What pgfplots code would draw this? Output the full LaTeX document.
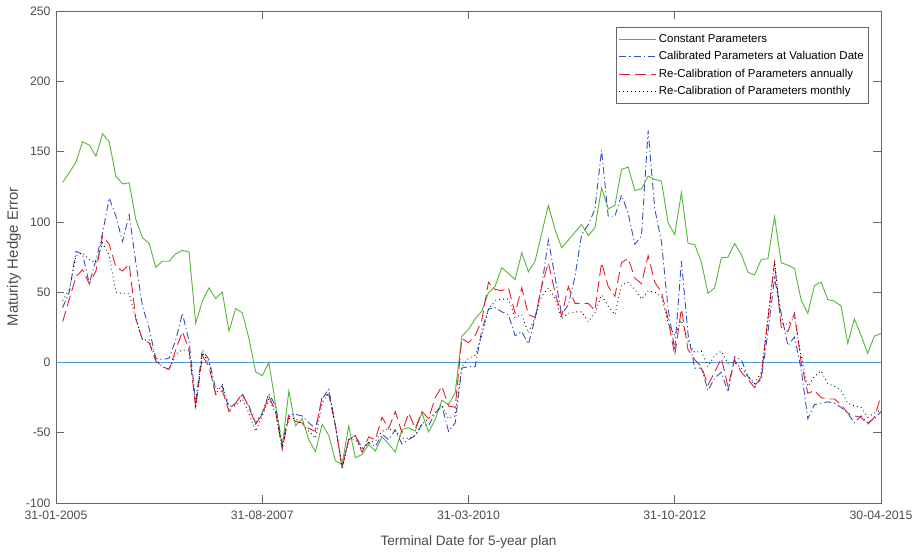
\documentclass[border=0pt]{standalone}
\usepackage{fontspec}
\setmainfont{Liberation Sans}
\usepackage{pgfplots}
\usepackage{pgfplotstable}
\pgfplotsset{compat=1.18}
\definecolor{cgreen}{RGB}{85,182,55}
\definecolor{cblue}{RGB}{50,80,190}
\definecolor{cred}{RGB}{235,30,40}
\definecolor{czero}{RGB}{80,155,215}
\pgfplotstableread{
i g b r k
1 128 39 29 44
2 135 50 45 52
3 142.5 79 61 76
4 157 77 66 78
5 154.6 56 56 73
6 146.7 73 65 71
7 162.6 92 90 85
8 157 117 84 76
9 132.5 104 68 50
10 127 86 65 49
11 127.8 105 70 49
12 101.7 71 31 31
13 88.7 40 16 16
14 84.6 24 14 16
15 67.8 3 1 2
16 72 2 -3 -3
17 72 3 -5 -5
18 77.3 16 9 6
19 79.7 35 22 9
20 78.5 15 9 8
21 28 -28 -32 -31
22 43.6 9 5 7
23 53 2 -3 0
24 45.5 -19 -23 -22
25 50 -17 -20 -16
26 22.3 -33 -35 -31
27 38.3 -29 -29 -31
28 35.3 -23 -22 -26
29 17 -31 -32 -36
30 -6.5 -43 -44 -49
31 -9.5 -36 -37 -38
32 0 -22 -24 -26
33 -30 -31 -35 -36
34 -60 -58 -62 -60
35 -20.4 -37 -38 -40
36 -45 -37 -42 -40
37 -40 -38 -43 -44
38 -55 -43 -47 -49
39 -63.5 -47 -49 -54
40 -44 -26 -24 -29
41 -52 -19 -23 -21
42 -70 -45 -45 -45
43 -72.5 -74 -75 -76
44 -45.3 -55 -55 -55
45 -67.8 -52 -52 -55
46 -65.4 -61 -64 -62
47 -58.3 -57 -53 -57
48 -63 -60 -55 -56
49 -53 -51 -39 -49
50 -58 -55 -47 -47
51 -63.8 -48 -35 -49
52 -47.7 -58 -50 -54
53 -46.5 -55 -36 -54
54 -48.8 -52 -47 -52
55 -35.8 -44 -35 -44
56 -49.5 -45 -40 -40
57 -40.5 -36 -25 -36
58 -26.8 -31 -17 -30
59 -30 -49 -31 -40
60 -21.6 -43 -32 -38
61 18.7 -4 17 -3
62 23.5 -3 14 3
63 31 -3 19 5
64 36.5 23 30 19
65 49.6 38 57 38
66 54.3 39 52 44
67 67.3 36 51 45
68 63.3 34 53 45
69 59 19 35 32
70 78 22 53 34
71 64.5 13 34 21
72 72 31 32 32
73 92 54 54 47
74 111.7 87 71 53
75 94.6 61 50 46
76 81.6 34 33 31
77 87 41 54 35
78 92.7 61 42 36
79 98.1 91 42 36
80 90.3 98 42 29
81 95.8 109 37 35
82 124.2 151 71 48
83 109.3 104 54 40
84 111.7 104 47 34
85 137.3 119 71 55
86 139 106 74 57
87 122.3 84 60 52
88 123.5 90 56 45
89 132.5 165 76 51
90 130.2 109 57 50
91 129 86 50 47
92 99.4 38 31 28
93 91 9 5 19
94 120.7 72 38 30
95 84.6 20 9 15
96 83.9 -4 2 7
97 71.3 -4 -3 8
98 49.1 -20 -16 -3
99 53.1 -11 -7 5
100 74.4 -7 3 8
101 74.9 -21 -17 -1
102 84.6 4 2 0
103 76.8 2 -7 -4
104 64.2 -10 -12 -10
105 62.1 -16 -18 -15
106 73.3 -12 -10 -7
107 73.7 21 31 31
108 103.6 60 71 72
109 70.9 35 25 28
110 69.2 12 22 27
111 66.9 18 35 32
112 44.3 -5 0 4
113 34.9 -40 -22 -17
114 54.8 -30 -20 -10
115 57.1 -29 -25 -6
116 44.8 -28 -26 -15
117 43.6 -29 -26 -17
118 40 -32 -30 -20
119 13.5 -36 -36 -29
120 31 -43 -38 -31
121 19.2 -38 -39 -32
122 6.4 -43 -44 -39
123 18.7 -40 -39 -36
124 20.6 -35 -24 -34
}\datatable
\begin{document}
\begin{tikzpicture}
\begin{axis}[
  scale only axis, width=825bp, height=492bp,
  xmin=0, xmax=124, ymin=-100, ymax=250,
  xtick={0,31,62,93,124},
  xticklabels={31-01-2005,31-08-2007,31-03-2010,31-10-2012,30-04-2015},
  ytick={-100,-50,0,50,100,150,200,250},
  yticklabels={-100,-50,0,50,100,150,200,250},
  tick align=inside, major tick length=8bp,
  tick style={black!60, line width=0.6bp},
  axis line style={black!60, line width=0.8bp},
  ticklabel style={font=\fontsize{12.3}{14}\selectfont, text=black!70},
  xticklabel style={yshift=-4bp},
  yticklabel style={xshift=-2bp},
  xlabel={Terminal Date for 5-year plan},
  ylabel={Maturity Hedge Error},
  every axis x label/.style={at={(axis description cs:0.5,-0.0793)}, anchor=center, font=\fontsize{13.7}{16}\selectfont, text=black!70},
  every axis y label/.style={at={(axis description cs:-0.0509,0.5)}, anchor=center, rotate=90, font=\fontsize{15}{17}\selectfont, text=black!70},
  legend style={at={(1,1)}, anchor=north east, xshift=-12bp, yshift=-16bp, draw=black!60, line width=0.6bp, font=\fontsize{11.5}{13}\selectfont, inner sep=3bp, nodes={minimum height=17.5bp, inner ysep=0pt}},
  legend cell align=left,
  legend image code/.code={\draw[line width=0.9bp, #1] (0bp,0bp) -- (37bp,0bp);},
]
\addplot[czero, line width=1.2bp, forget plot] coordinates {(0,0) (124,0)};
\addplot[cgreen, line width=0.9bp] table[x=i, y=g] {\datatable};
\addlegendentry{Constant Parameters}
\addplot[cblue, line width=0.9bp, dash pattern=on 7bp off 3bp on 1.2bp off 3bp] table[x=i, y=b] {\datatable};
\addlegendentry{Calibrated Parameters at Valuation Date}
\addplot[cred, line width=0.9bp, dash pattern=on 11bp off 5bp] table[x=i, y=r] {\datatable};
\addlegendentry{Re-Calibration of Parameters annually}
\addplot[black, line width=0.9bp, dash pattern=on 0.8bp off 3.2bp] table[x=i, y=k] {\datatable};
\addlegendentry{Re-Calibration of Parameters monthly}
\coordinate (bl) at (rel axis cs:0,0);
\coordinate (tr) at (rel axis cs:1,1);
\end{axis}
\pgfresetboundingbox
\path ([shift={(-56bp,-51bp)}]bl) rectangle ([shift={(36bp,11bp)}]tr);
\end{tikzpicture}
\end{document}
